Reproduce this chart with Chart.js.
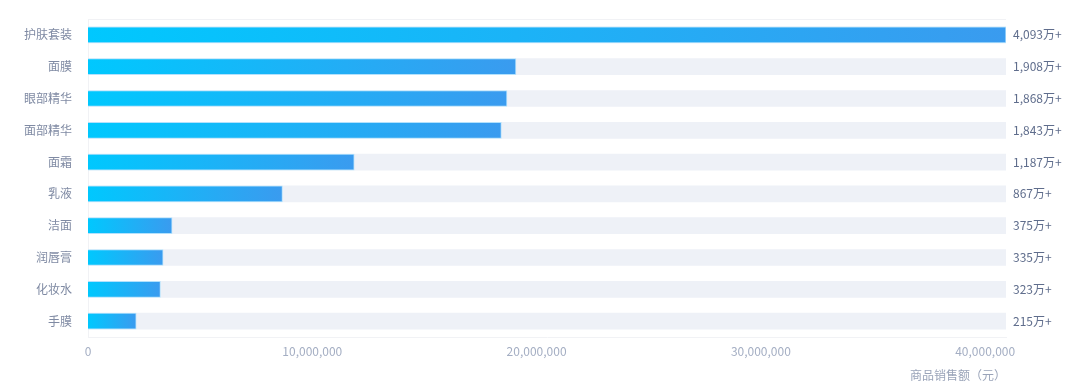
<!DOCTYPE html>
<html>
<head>
<meta charset="utf-8">
<script src="https://cdn.jsdelivr.net/npm/chart.js@4"></script>
<style>
  body { margin: 0; background: #fff; }
  #wrap { width: 1080px; height: 390px; }
</style>
</head>
<body>
<div id="wrap"><canvas id="sales"></canvas></div>
<script>
const categories = ["护肤套装", "面膜", "眼部精华", "面部精华", "面霜", "乳液", "洁面", "润唇膏", "化妆水", "手膜"];
const salesValues = [40930000, 19080000, 18680000, 18430000, 11870000, 8670000, 3750000, 3350000, 3230000, 2150000];
const xTicks = [0, 10000000, 20000000, 30000000, 40000000];

const maxValue = Math.max(...salesValues);
const trackValues = categories.map(() => maxValue);

Chart.defaults.font.family = '"Noto Sans CJK SC", "Noto Sans", sans-serif';
Chart.defaults.font.size = 12;

function barGradient(ctx) {
    const chart = ctx.chart;
    if (!chart.chartArea || ctx.parsed == null) return "#1bb2fb";
    const x = chart.scales.x;
    const x0 = x.getPixelForValue(0);
    const x1 = x.getPixelForValue(ctx.parsed.x);
    const g = chart.ctx.createLinearGradient(x0, 0, Math.max(x1, x0 + 1), 0);
    g.addColorStop(0, "#00c8fe");
    g.addColorStop(1, "#3a9bef");
    return g;
}

// value text at the right end of each track + faint top border
const valueLabels = {
    id: "valueLabels",
    afterDatasetsDraw(chart) {
        const c = chart.ctx;
        const area = chart.chartArea;
        c.save();
        c.strokeStyle = "#f1f2f5";
        c.lineWidth = 1;
        c.beginPath();
        c.moveTo(area.left, area.top + 0.5);
        c.lineTo(area.right, area.top + 0.5);
        c.stroke();
        const meta = chart.getDatasetMeta(0);
        c.fillStyle = "#5f6d8c";
        c.font = '12px "Noto Sans CJK SC", "Noto Sans", sans-serif';
        c.textAlign = "left";
        c.textBaseline = "middle";
        meta.data.forEach((bar, i) => {
            const wan = Math.round(salesValues[i] / 10000).toLocaleString("en-US");
            c.fillText(wan + "万+", area.right + 7, bar.y);
        });
        c.restore();
    }
};

new Chart(document.getElementById("sales"), {
    type: "bar",
    data: {
        labels: categories,
        datasets: [
            {
                data: salesValues,
                backgroundColor: barGradient,
                borderColor: "rgba(140,215,255,0.6)",
                borderWidth: 1,
                barThickness: 16,
                grouped: false,
                order: 0
            },
            {
                data: trackValues,
                backgroundColor: "#eef1f7",
                barThickness: 16,
                grouped: false,
                order: 1
            }
        ]
    },
    options: {
        indexAxis: "y",
        responsive: true,
        maintainAspectRatio: false,
        animation: false,
        layout: { padding: { top: 19, right: 74, left: 0, bottom: 0 } },
        plugins: {
            legend: { display: false },
            tooltip: { enabled: false }
        },
        scales: {
            x: {
                min: 0,
                max: maxValue,
                afterBuildTicks: (scale) => {
                    scale.ticks = xTicks.map(v => ({ value: v }));
                },
                afterFit: (scale) => { scale.height = 53; },
                grid: { display: false },
                border: { color: "#f1f2f5" },
                ticks: {
                    color: "#a4aec3",
                    padding: -1,
                    maxRotation: 0,
                    callback: (v) => Number(v).toLocaleString("en-US")
                },
                title: {
                    display: true,
                    text: "商品销售额（元）",
                    align: "end",
                    color: "#9aa4b9",
                    padding: { top: 10, bottom: 7 }
                }
            },
            y: {
                afterFit: (scale) => { scale.width = 88; },
                grid: { display: false },
                border: { color: "#f1f2f5" },
                ticks: { color: "#7f8aa3", padding: 8 }
            }
        }
    },
    plugins: [valueLabels]
});
</script>
</body>
</html>
